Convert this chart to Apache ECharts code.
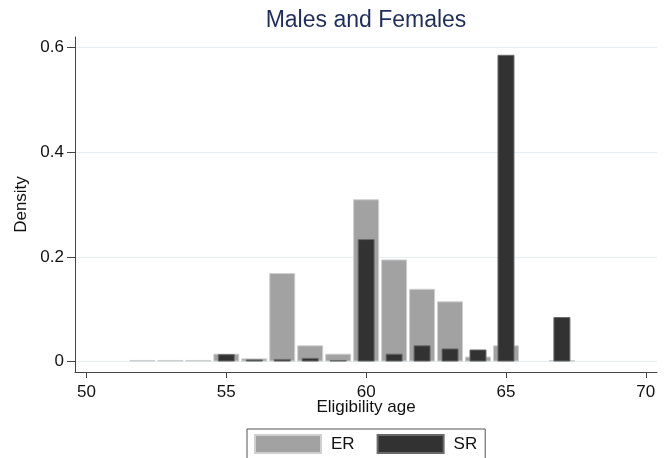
<!DOCTYPE html>
<html>
<head>
<meta charset="utf-8">
<script src="https://cdn.jsdelivr.net/npm/echarts@6/dist/echarts.min.js"></script>
<style>
html,body{margin:0;padding:0;background:#fff;}
#chart{width:666px;height:458px;}
</style>
</head>
<body>
<div id="chart"></div>
<script>
// Data
var ages = [52, 53, 54, 55, 56, 57, 58, 59, 60, 61, 62, 63, 64, 65, 66, 67];
var erDensity = [0.003, 0.003, 0.003, 0.015, 0.006, 0.169, 0.031, 0.015, 0.310, 0.195, 0.139, 0.115, 0.0095, 0.031, 0, 0.003];
var srDensity = [0, 0, 0, 0.014, 0.004, 0.005, 0.007, 0.003, 0.234, 0.015, 0.031, 0.025, 0.023, 0.586, 0, 0.085];
var xTicks = [50, 55, 60, 65, 70];
var yTicks = [0, 0.2, 0.4, 0.6];

var FONT = 'Liberation Sans, Arial, Helvetica, sans-serif';

function pairs(vals) {
  var out = [];
  for (var i = 0; i < ages.length; i++) {
    if (vals[i] > 0) out.push([ages[i], vals[i]]);
  }
  return out;
}

var xCommon = {
  type: 'value',
  min: 49.59,
  max: 70.4,
  axisLine: { show: true, onZero: false, lineStyle: { color: '#444', width: 1 } },
  axisTick: { show: true, length: 6, customValues: xTicks, lineStyle: { color: '#444' } },
  axisLabel: { customValues: xTicks, margin: 12, fontSize: 17, color: '#111', fontFamily: FONT },
  splitLine: { show: false }
};

var chart = echarts.init(document.getElementById('chart'), null, { renderer: 'canvas' });
chart.setOption({
  animation: false,
  backgroundColor: '#fff',
  title: {
    text: 'Males and Females',
    left: 366,
    top: 9,
    padding: 0,
    textAlign: 'center',
    textStyle: { fontSize: 23, fontWeight: 'normal', color: '#1f2d5c', fontFamily: FONT }
  },
  grid: { left: 75, right: 9, top: 37, bottom: 86, containLabel: false },
  legend: {
    data: ['ER', 'SR'],
    left: 247,
    top: 429,
    orient: 'horizontal',
    icon: 'rect',
    itemWidth: 66,
    itemHeight: 18,
    itemGap: 22,
    padding: [5, 8, 10, 7],
    borderColor: '#555',
    borderWidth: 1,
    borderRadius: 0,
    textStyle: { fontSize: 17, color: '#111', fontFamily: FONT, padding: [0, 0, 0, 5] }
  },
  xAxis: [
    Object.assign({}, xCommon, {
      name: 'Eligibility age',
      nameLocation: 'middle',
      nameGap: 27,
      nameMoveOverlap: false,
      nameTextStyle: { fontSize: 17, color: '#111', fontFamily: FONT }
    }),
    Object.assign({}, xCommon, { show: false })
  ],
  yAxis: {
    type: 'value',
    min: -0.02,
    max: 0.62,
    name: 'Density',
    nameLocation: 'middle',
    nameGap: 45,
    nameMoveOverlap: false,
    nameTextStyle: { fontSize: 17, color: '#111', fontFamily: FONT },
    axisLine: { show: true, lineStyle: { color: '#444', width: 1 } },
    axisTick: { show: true, length: 8, customValues: yTicks, lineStyle: { color: '#444' } },
    axisLabel: {
      customValues: yTicks, margin: 11, fontSize: 17, color: '#111', fontFamily: FONT,
      formatter: function (v) { return String(Math.round(v * 10) / 10); }
    },
    splitLine: { show: true, lineStyle: { color: '#e6eff4', width: 1 } }
  },
  series: [
    {
      name: 'ER',
      type: 'bar',
      xAxisIndex: 0,
      barWidth: 26,
      data: pairs(erDensity),
      itemStyle: { color: '#a2a2a2', borderColor: '#cfcfcf', borderWidth: 1 }
    },
    {
      name: 'SR',
      type: 'bar',
      xAxisIndex: 1,
      barWidth: 17,
      data: pairs(srDensity),
      itemStyle: { color: '#323232', borderColor: '#6a6a6a', borderWidth: 1 }
    }
  ]
});
</script>
</body>
</html>
